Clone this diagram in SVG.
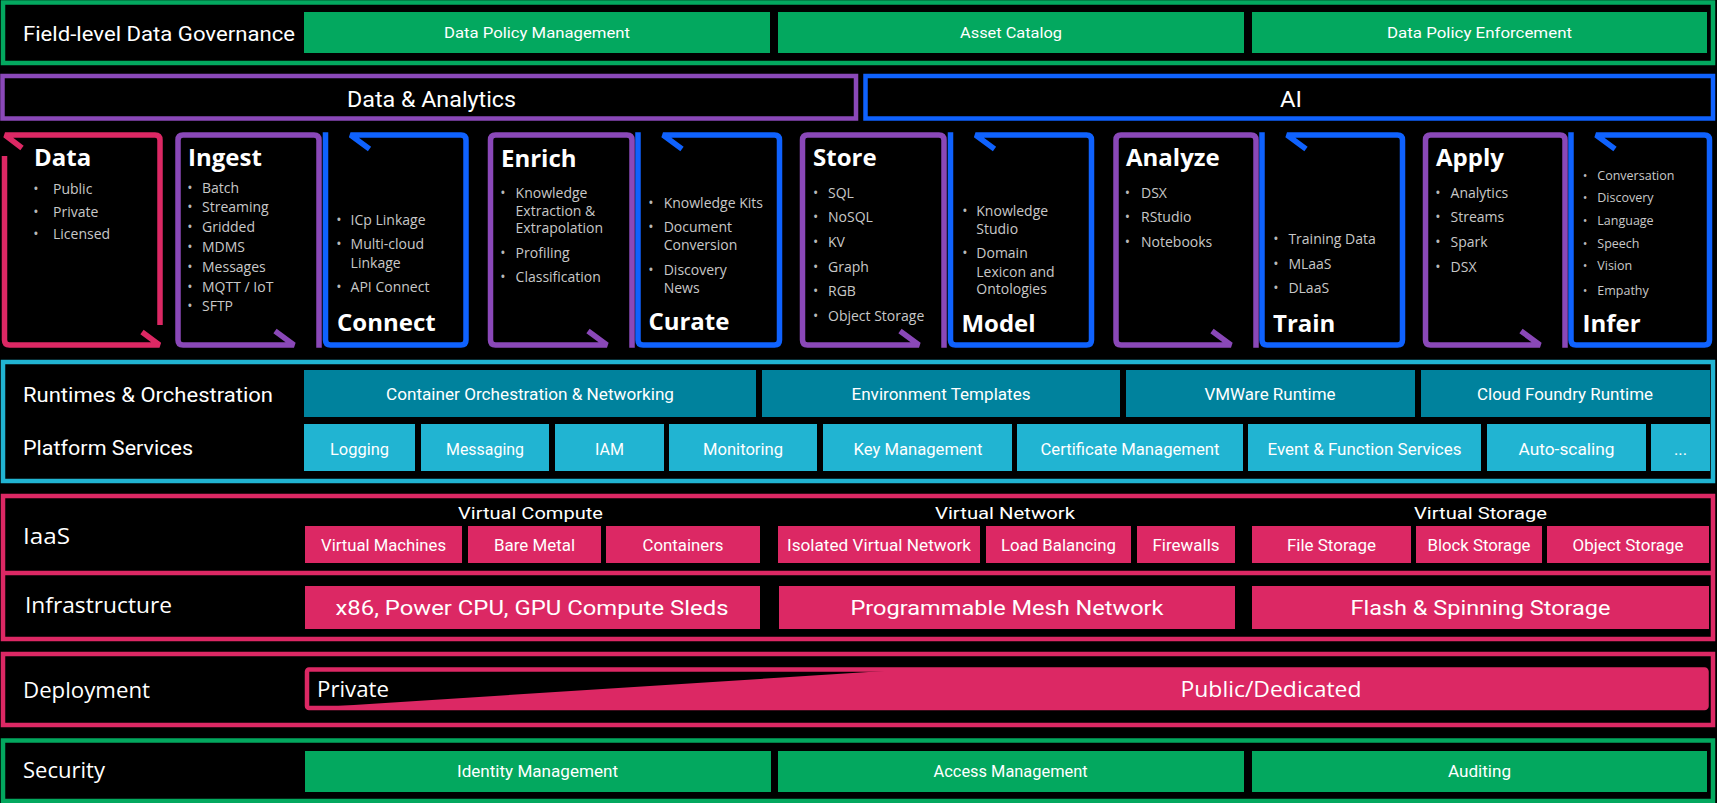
<svg xmlns="http://www.w3.org/2000/svg" width="1717" height="803" viewBox="0 0 1717 803">
<style>
.bg{fill:#000}
.c{font-family:Roboto,"Liberation Sans",sans-serif;fill:#fff;text-anchor:middle}
.cl{font-family:Roboto,"Liberation Sans",sans-serif;fill:#fff}
.r{font-family:"Open Sans","Noto Sans",sans-serif;fill:#fff}
.ttl{font-family:"Open Sans","Noto Sans",sans-serif;font-weight:700;font-size:24px;fill:#fff}
.it{font-family:"Open Sans","Noto Sans",sans-serif;font-size:14px;fill:#c8c8c8}
.dt{font-family:"Open Sans","Noto Sans",sans-serif;font-size:14px;fill:#b8b8b8;text-anchor:middle}
.sm .it,.sm .dt{font-size:12.5px}
.frame{fill:none;stroke-width:4.5}
.box{fill:none;stroke-width:5.5;stroke-linejoin:miter;stroke-miterlimit:2;stroke-linecap:butt}
.g{fill:#03a85f}.gs{stroke:#03a85f}
.p{fill:#dc2864}.ps{stroke:#dc2864}
.pu{stroke:#8a48b8}.bl{stroke:#0f62fe}
.dk{fill:#00829d}.lt{fill:#21b4d2}.ts{stroke:#21b4d2}
</style>
<rect class="bg" x="0" y="0" width="1717" height="803"/>

<g id="governance">
<rect class="frame gs" x="3" y="2.5" width="1710" height="60.5"/>
<text class="cl" x="23" y="41" font-size="21" textLength="272" lengthAdjust="spacingAndGlyphs">Field-level Data Governance</text>
<rect class="g" x="304" y="12" width="466" height="41"/>
<text class="c" x="537" y="38.3" font-size="15" textLength="186" lengthAdjust="spacingAndGlyphs">Data Policy Management</text>
<rect class="g" x="778" y="12" width="466" height="41"/>
<text class="c" x="1011" y="38.3" font-size="15" textLength="102" lengthAdjust="spacingAndGlyphs">Asset Catalog</text>
<rect class="g" x="1252" y="12" width="455" height="41"/>
<text class="c" x="1479.5" y="38.3" font-size="15" textLength="185" lengthAdjust="spacingAndGlyphs">Data Policy Enforcement</text>
</g>

<g id="data-analytics">
<rect class="frame pu" x="2.5" y="76" width="853.5" height="42.5"/>
<text class="c" x="431.5" y="106.5" font-size="22.5" textLength="169" lengthAdjust="spacingAndGlyphs">Data &amp; Analytics</text>
</g>
<g id="ai">
<rect class="frame bl" x="865.5" y="76" width="847.5" height="42.5"/>
<text class="c" x="1291" y="106.5" font-size="22.5" textLength="22" lengthAdjust="spacingAndGlyphs">AI</text>
</g>

<g id="node-data">
<path class="box ps" d="M22 148 L5 135 L155 135 Q160 135 160 140 L160 325"/>
<path class="box ps" d="M4.5 156 L4.5 340 Q4.5 345 9.5 345 L159.5 345 L142 332"/>
<text class="ttl" x="34" y="165.7">Data</text>
<text class="dt" x="36" y="194.3">•</text><text class="it" x="53" y="194.3">Public</text>
<text class="dt" x="36" y="216.7">•</text><text class="it" x="53" y="216.7">Private</text>
<text class="dt" x="36" y="239">•</text><text class="it" x="53" y="239">Licensed</text>
</g>

<g id="node-ingest">
<path class="box pu" d="M275 331 L294 345 L183 345 Q178 345 178 340 L178 140 Q178 135 183 135 L314 135 Q319 135 319 140 L319 347.75"/>
<text class="ttl" x="188" y="165.7">Ingest</text>
<text class="dt" x="190" y="192.5">•</text><text class="it" x="202" y="192.5">Batch</text>
<text class="dt" x="190" y="212.3">•</text><text class="it" x="202" y="212.3">Streaming</text>
<text class="dt" x="190" y="232.1">•</text><text class="it" x="202" y="232.1">Gridded</text>
<text class="dt" x="190" y="251.9">•</text><text class="it" x="202" y="251.9">MDMS</text>
<text class="dt" x="190" y="271.7">•</text><text class="it" x="202" y="271.7">Messages</text>
<text class="dt" x="190" y="291.5">•</text><text class="it" x="202" y="291.5">MQTT / IoT</text>
<text class="dt" x="190" y="311.3">•</text><text class="it" x="202" y="311.3">SFTP</text>
</g>

<g id="node-connect">
<path class="box bl" d="M369.5 149 L350.5 135 L461 135 Q466 135 466 140 L466 340 Q466 345 461 345 L330.5 345 Q325.5 345 325.5 340 L325.5 132.25"/>
<text class="dt" x="339" y="225">•</text><text class="it" x="350.6" y="225">ICp Linkage</text>
<text class="dt" x="339" y="249">•</text><text class="it" x="350.6" y="249">Multi-cloud</text>
<text class="it" x="350.6" y="267.7">Linkage</text>
<text class="dt" x="339" y="292.3">•</text><text class="it" x="350.6" y="292.3">API Connect</text>
<text class="ttl" x="337" y="331">Connect</text>
</g>

<g id="node-enrich">
<path class="box pu" d="M588 331 L607 345 L495.5 345 Q490.5 345 490.5 340 L490.5 140 Q490.5 135 495.5 135 L627 135 Q632 135 632 140 L632 347.75"/>
<text class="ttl" x="501" y="166.7">Enrich</text>
<text class="dt" x="503" y="197.7">•</text><text class="it" x="515.6" y="197.7">Knowledge</text>
<text class="it" x="515.6" y="215.7">Extraction &amp;</text>
<text class="it" x="515.6" y="233.3">Extrapolation</text>
<text class="dt" x="503" y="257.7">•</text><text class="it" x="515.6" y="257.7">Profiling</text>
<text class="dt" x="503" y="282.3">•</text><text class="it" x="515.6" y="282.3">Classification</text>
</g>

<g id="node-curate">
<path class="box bl" d="M682 149 L663 135 L774.5 135 Q779.5 135 779.5 140 L779.5 340 Q779.5 345 774.5 345 L643 345 Q638 345 638 340 L638 132.25"/>
<text class="dt" x="651" y="207.7">•</text><text class="it" x="663.7" y="207.7">Knowledge Kits</text>
<text class="dt" x="651" y="232.3">•</text><text class="it" x="663.7" y="232.3">Document</text>
<text class="it" x="663.7" y="250">Conversion</text>
<text class="dt" x="651" y="275">•</text><text class="it" x="663.7" y="275">Discovery</text>
<text class="it" x="663.7" y="292.7">News</text>
<text class="ttl" x="648.4" y="330">Curate</text>
</g>

<g id="node-store">
<path class="box pu" d="M900 331 L919 345 L807.5 345 Q802.5 345 802.5 340 L802.5 140 Q802.5 135 807.5 135 L939 135 Q944 135 944 140 L944 347.75"/>
<text class="ttl" x="813" y="165.7">Store</text>
<text class="dt" x="815.6" y="197.7">•</text><text class="it" x="828" y="197.7">SQL</text>
<text class="dt" x="815.6" y="221.7">•</text><text class="it" x="828" y="221.7">NoSQL</text>
<text class="dt" x="815.6" y="246.7">•</text><text class="it" x="828" y="246.7">KV</text>
<text class="dt" x="815.6" y="271.7">•</text><text class="it" x="828" y="271.7">Graph</text>
<text class="dt" x="815.6" y="296">•</text><text class="it" x="828" y="296">RGB</text>
<text class="dt" x="815.6" y="321">•</text><text class="it" x="828" y="321">Object Storage</text>
</g>

<g id="node-model">
<path class="box bl" d="M994.5 149 L975.5 135 L1086.5 135 Q1091.5 135 1091.5 140 L1091.5 340 Q1091.5 345 1086.5 345 L955.5 345 Q950.5 345 950.5 340 L950.5 132.25"/>
<text class="dt" x="965" y="215.7">•</text><text class="it" x="976.3" y="215.7">Knowledge</text>
<text class="it" x="976.3" y="234">Studio</text>
<text class="dt" x="965" y="258.3">•</text><text class="it" x="976.3" y="258.3">Domain</text>
<text class="it" x="976.3" y="276.7">Lexicon and</text>
<text class="it" x="976.3" y="294.3">Ontologies</text>
<text class="ttl" x="961.4" y="331.7">Model</text>
</g>

<g id="node-analyze">
<path class="box pu" d="M1212 331 L1231 345 L1121 345 Q1116 345 1116 340 L1116 140 Q1116 135 1121 135 L1251 135 Q1256 135 1256 140 L1256 347.75"/>
<text class="ttl" x="1126" y="165.7">Analyze</text>
<text class="dt" x="1127.5" y="197.7">•</text><text class="it" x="1141" y="197.7">DSX</text>
<text class="dt" x="1127.5" y="222.3">•</text><text class="it" x="1141" y="222.3">RStudio</text>
<text class="dt" x="1127.5" y="246.7">•</text><text class="it" x="1141" y="246.7">Notebooks</text>
</g>

<g id="node-train">
<path class="box bl" d="M1306 149 L1287 135 L1397.5 135 Q1402.5 135 1402.5 140 L1402.5 340 Q1402.5 345 1397.5 345 L1267 345 Q1262 345 1262 340 L1262 132.25"/>
<text class="dt" x="1276" y="244.3">•</text><text class="it" x="1288.4" y="244.3">Training Data</text>
<text class="dt" x="1276" y="269">•</text><text class="it" x="1288.4" y="269">MLaaS</text>
<text class="dt" x="1276" y="293.3">•</text><text class="it" x="1288.4" y="293.3">DLaaS</text>
<text class="ttl" x="1273" y="331.7">Train</text>
</g>

<g id="node-apply">
<path class="box pu" d="M1521 331 L1540 345 L1430.5 345 Q1425.5 345 1425.5 340 L1425.5 140 Q1425.5 135 1430.5 135 L1560 135 Q1565 135 1565 140 L1565 347.75"/>
<text class="ttl" x="1436" y="165.7">Apply</text>
<text class="dt" x="1438" y="197.7">•</text><text class="it" x="1450.6" y="197.7">Analytics</text>
<text class="dt" x="1438" y="222.3">•</text><text class="it" x="1450.6" y="222.3">Streams</text>
<text class="dt" x="1438" y="246.7">•</text><text class="it" x="1450.6" y="246.7">Spark</text>
<text class="dt" x="1438" y="271.7">•</text><text class="it" x="1450.6" y="271.7">DSX</text>
</g>

<g id="node-infer" class="sm">
<path class="box bl" d="M1615 149 L1596 135 L1704.5 135 Q1709.5 135 1709.5 140 L1709.5 340 Q1709.5 345 1704.5 345 L1576 345 Q1571 345 1571 340 L1571 132.25"/>
<text class="dt" x="1585" y="180">•</text><text class="it" x="1597.3" y="180">Conversation</text>
<text class="dt" x="1585" y="202.3">•</text><text class="it" x="1597.3" y="202.3">Discovery</text>
<text class="dt" x="1585" y="225">•</text><text class="it" x="1597.3" y="225">Language</text>
<text class="dt" x="1585" y="247.7">•</text><text class="it" x="1597.3" y="247.7">Speech</text>
<text class="dt" x="1585" y="270">•</text><text class="it" x="1597.3" y="270">Vision</text>
<text class="dt" x="1585" y="295">•</text><text class="it" x="1597.3" y="295">Empathy</text>
<text class="ttl" x="1582.5" y="331.7">Infer</text>
</g>

<g id="runtimes">
<rect class="frame ts" x="3" y="362" width="1710" height="119"/>
<text class="cl" x="23" y="401.7" font-size="20" textLength="250" lengthAdjust="spacingAndGlyphs">Runtimes &amp; Orchestration</text>
<text class="cl" x="23" y="455" font-size="20" textLength="170" lengthAdjust="spacingAndGlyphs">Platform Services</text>
<rect class="dk" x="304" y="370" width="452" height="47"/>
<text class="c" x="530" y="400" font-size="16.5" textLength="288" lengthAdjust="spacingAndGlyphs">Container Orchestration &amp; Networking</text>
<rect class="dk" x="762" y="370" width="358" height="47"/>
<text class="c" x="941" y="400" font-size="16.5" textLength="179" lengthAdjust="spacingAndGlyphs">Environment Templates</text>
<rect class="dk" x="1126" y="370" width="289" height="47"/>
<text class="c" x="1270" y="400" font-size="16.5" textLength="131" lengthAdjust="spacingAndGlyphs">VMWare Runtime</text>
<rect class="dk" x="1421" y="370" width="289" height="47"/>
<text class="c" x="1565" y="400" font-size="16.5" textLength="176" lengthAdjust="spacingAndGlyphs">Cloud Foundry Runtime</text>
<rect class="lt" x="304" y="424" width="111" height="47"/>
<text class="c" x="359.5" y="455" font-size="16.5" textLength="59" lengthAdjust="spacingAndGlyphs">Logging</text>
<rect class="lt" x="421" y="424" width="128" height="47"/>
<text class="c" x="485" y="455" font-size="16.5" textLength="78" lengthAdjust="spacingAndGlyphs">Messaging</text>
<rect class="lt" x="555" y="424" width="109" height="47"/>
<text class="c" x="609.5" y="455" font-size="16.5" textLength="29" lengthAdjust="spacingAndGlyphs">IAM</text>
<rect class="lt" x="669" y="424" width="148" height="47"/>
<text class="c" x="743" y="455" font-size="16.5" textLength="80" lengthAdjust="spacingAndGlyphs">Monitoring</text>
<rect class="lt" x="823" y="424" width="189" height="47"/>
<text class="c" x="918" y="455" font-size="16.5" textLength="129" lengthAdjust="spacingAndGlyphs">Key Management</text>
<rect class="lt" x="1017" y="424" width="226" height="47"/>
<text class="c" x="1130" y="455" font-size="16.5" textLength="179" lengthAdjust="spacingAndGlyphs">Certificate Management</text>
<rect class="lt" x="1248" y="424" width="233" height="47"/>
<text class="c" x="1364.5" y="455" font-size="16.5" textLength="194" lengthAdjust="spacingAndGlyphs">Event &amp; Function Services</text>
<rect class="lt" x="1487" y="424" width="159" height="47"/>
<text class="c" x="1566.5" y="455" font-size="16.5" textLength="96" lengthAdjust="spacingAndGlyphs">Auto-scaling</text>
<rect class="lt" x="1651" y="424" width="59" height="47"/>
<text class="c" x="1680.5" y="455" font-size="16.5">...</text>
</g>

<g id="iaas">
<rect class="frame ps" x="3" y="496" width="1710" height="143"/>
<line class="ps" x1="3" y1="573" x2="1713" y2="573" stroke-width="4.5"/>
<text class="r" x="23" y="544.3" font-size="22" textLength="47" lengthAdjust="spacingAndGlyphs">IaaS</text>
<text class="c" x="530.5" y="519.3" font-size="16.5" textLength="145" lengthAdjust="spacingAndGlyphs">Virtual Compute</text>
<text class="c" x="1005" y="519.3" font-size="16.5" textLength="140" lengthAdjust="spacingAndGlyphs">Virtual Network</text>
<text class="c" x="1480.5" y="519.3" font-size="16.5" textLength="133" lengthAdjust="spacingAndGlyphs">Virtual Storage</text>
<rect class="p" x="305" y="526" width="157" height="37"/>
<text class="c" x="383.5" y="551" font-size="16" textLength="125" lengthAdjust="spacingAndGlyphs">Virtual Machines</text>
<rect class="p" x="468" y="526" width="133" height="37"/>
<text class="c" x="534.5" y="551" font-size="16" textLength="81" lengthAdjust="spacingAndGlyphs">Bare Metal</text>
<rect class="p" x="606" y="526" width="154" height="37"/>
<text class="c" x="683" y="551" font-size="16" textLength="81" lengthAdjust="spacingAndGlyphs">Containers</text>
<rect class="p" x="778" y="526" width="202" height="37"/>
<text class="c" x="879" y="551" font-size="16" textLength="184" lengthAdjust="spacingAndGlyphs">Isolated Virtual Network</text>
<rect class="p" x="986" y="526" width="145" height="37"/>
<text class="c" x="1058.5" y="551" font-size="16" textLength="115" lengthAdjust="spacingAndGlyphs">Load Balancing</text>
<rect class="p" x="1137" y="526" width="98" height="37"/>
<text class="c" x="1186" y="551" font-size="16" textLength="67" lengthAdjust="spacingAndGlyphs">Firewalls</text>
<rect class="p" x="1252" y="526" width="159" height="37"/>
<text class="c" x="1331.5" y="551" font-size="16" textLength="89" lengthAdjust="spacingAndGlyphs">File Storage</text>
<rect class="p" x="1416" y="526" width="126" height="37"/>
<text class="c" x="1479" y="551" font-size="16" textLength="103" lengthAdjust="spacingAndGlyphs">Block Storage</text>
<rect class="p" x="1547" y="526" width="162" height="37"/>
<text class="c" x="1628" y="551" font-size="16" textLength="111" lengthAdjust="spacingAndGlyphs">Object Storage</text>
</g>

<g id="infrastructure">
<text class="r" x="25" y="613.3" font-size="22" textLength="147" lengthAdjust="spacingAndGlyphs">Infrastructure</text>
<rect class="p" x="305" y="586" width="455" height="43"/>
<text class="c" x="532" y="615" font-size="21" textLength="393" lengthAdjust="spacingAndGlyphs">x86, Power CPU, GPU Compute Sleds</text>
<rect class="p" x="779" y="586" width="456" height="43"/>
<text class="c" x="1007" y="615" font-size="21" textLength="313" lengthAdjust="spacingAndGlyphs">Programmable Mesh Network</text>
<rect class="p" x="1252" y="586" width="457" height="43"/>
<text class="c" x="1480.5" y="615" font-size="21" textLength="260" lengthAdjust="spacingAndGlyphs">Flash &amp; Spinning Storage</text>
</g>

<g id="deployment">
<rect class="frame ps" x="3" y="654" width="1710" height="71"/>
<text class="r" x="23" y="698.3" font-size="22" textLength="127" lengthAdjust="spacingAndGlyphs">Deployment</text>
<polygon class="p" points="307,708 900,670 1706.5,670 1706.5,708"/>
<rect x="307" y="669.5" width="1399.5" height="38.5" rx="2" fill="none" stroke="#dc2864" stroke-width="4.5"/>
<text class="r" x="317" y="697.3" font-size="22" textLength="72" lengthAdjust="spacingAndGlyphs">Private</text>
<text class="r" x="1271" y="697" font-size="22" text-anchor="middle" textLength="181" lengthAdjust="spacingAndGlyphs">Public/Dedicated</text>
</g>

<g id="security">
<rect class="frame gs" x="3" y="740.5" width="1710" height="60.5"/>
<text class="r" x="23" y="778" font-size="21" textLength="82" lengthAdjust="spacingAndGlyphs">Security</text>
<rect class="g" x="305" y="751" width="466" height="41"/>
<text class="c" x="537.5" y="777.3" font-size="16" textLength="161" lengthAdjust="spacingAndGlyphs">Identity Management</text>
<rect class="g" x="778" y="751" width="466" height="41"/>
<text class="c" x="1010.6" y="777.3" font-size="16" textLength="154" lengthAdjust="spacingAndGlyphs">Access Management</text>
<rect class="g" x="1252" y="751" width="455" height="41"/>
<text class="c" x="1479.5" y="777.3" font-size="16" textLength="63" lengthAdjust="spacingAndGlyphs">Auditing</text>
</g>
</svg>
